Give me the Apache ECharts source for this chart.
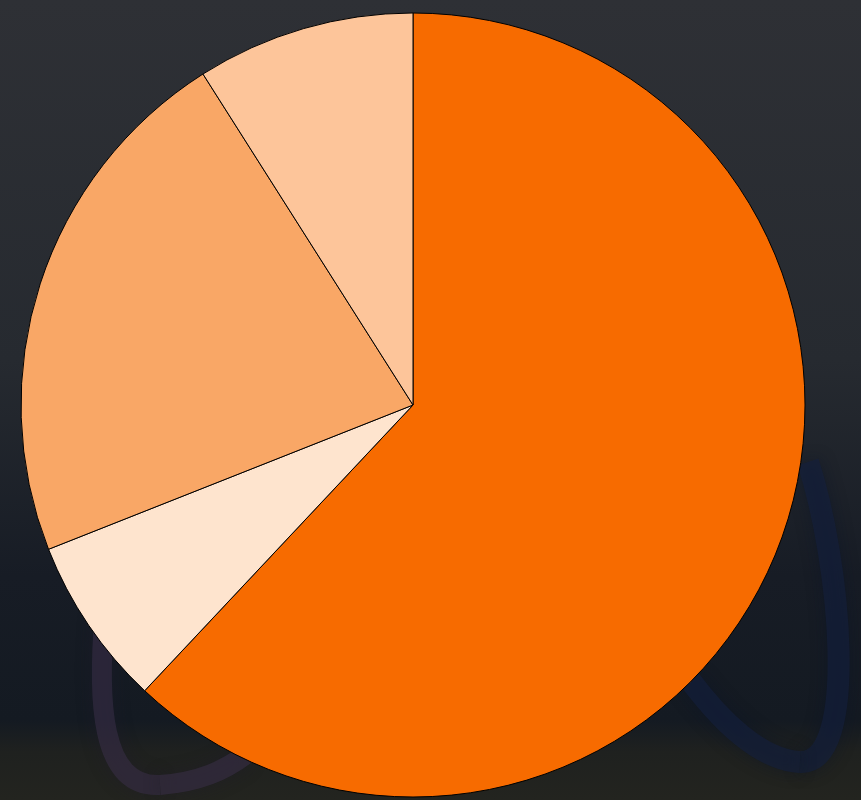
<!DOCTYPE html>
<html>
<head>
<meta charset="utf-8">
<script src="https://cdn.jsdelivr.net/npm/echarts@6/dist/echarts.min.js"></script>
<style>html,body{margin:0;padding:0;background:#23262b;}#c{width:861px;height:800px;}</style>
</head>
<body>
<div id="c"></div>
<script>
const categories = ['A', 'B', 'C', 'D'];
const values = [62, 7, 22, 9];
const colors = ['#F76B00', '#FEE4CE', '#F9A766', '#FDC59A'];

const ringLeft = {stroke: 'rgba(58,48,72,0.55)', lineWidth: 20, shadowBlur: 16, shadowColor: 'rgba(30,25,45,0.7)', fill: null};
const ringRight = {stroke: 'rgba(20,32,62,0.6)', lineWidth: 22, shadowBlur: 16, shadowColor: 'rgba(10,18,40,0.7)', fill: null};

const chart = echarts.init(document.getElementById('c'));
chart.setOption({
  animation: false,
  backgroundColor: {
    type: 'linear', x: 0, y: 0, x2: 0, y2: 1,
    colorStops: [
      {offset: 0, color: '#2e3035'},
      {offset: 0.45, color: '#262a30'},
      {offset: 0.72, color: '#171c25'},
      {offset: 0.9, color: '#141a22'},
      {offset: 0.94, color: '#1f211f'},
      {offset: 1, color: '#23241f'}
    ]
  },
  graphic: [
    {
      type: 'bezierCurve', z: 0, silent: true,
      shape: {x1: 105, y1: 610, cpx1: 97, cpy1: 700, cpx2: 100, cpy2: 788, x2: 160, y2: 785},
      style: ringLeft
    },
    {
      type: 'bezierCurve', z: 0, silent: true,
      shape: {x1: 160, y1: 785, cpx1: 200, cpy1: 782, cpx2: 225, cpy2: 770, x2: 245, y2: 755},
      style: ringLeft
    },
    {
      type: 'bezierCurve', z: 0, silent: true,
      shape: {x1: 808, y1: 462, cpx1: 840, cpy1: 560, cpx2: 860, cpy2: 765, x2: 800, y2: 762},
      style: ringRight
    },
    {
      type: 'bezierCurve', z: 0, silent: true,
      shape: {x1: 800, y1: 762, cpx1: 760, cpy1: 760, cpx2: 720, cpy2: 720, x2: 690, y2: 680},
      style: ringRight
    }
  ],
  series: [{
    type: 'pie',
    z: 5,
    center: [413, 405],
    radius: 392,
    startAngle: 90,
    clockwise: true,
    label: {show: false},
    labelLine: {show: false},
    itemStyle: {borderColor: '#000', borderWidth: 1},
    data: categories.map((c, i) => ({name: c, value: values[i], itemStyle: {color: colors[i]}}))
  }]
});
</script>
</body>
</html>
